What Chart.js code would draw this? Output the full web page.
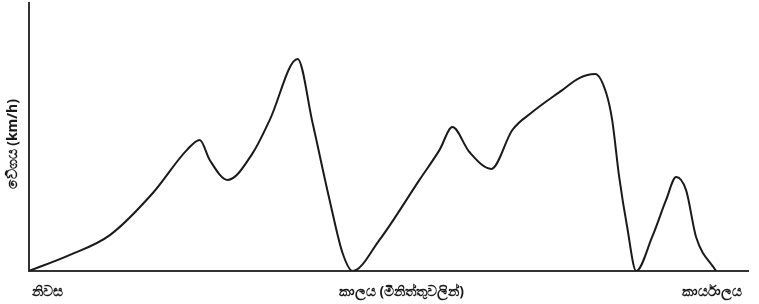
<!DOCTYPE html>
<html>
<head>
<meta charset="utf-8">
<script src="https://cdn.jsdelivr.net/npm/chart.js@4/dist/chart.umd.min.js"></script>
<style>
html,body{margin:0;padding:0;background:#fff;}
#wrap{width:759px;height:304px;}
</style>
</head>
<body>
<div id="wrap"><canvas id="c" width="759" height="304"></canvas></div>
<script>
// time (minutes, arbitrary units) and speed (km/h, arbitrary units)
const times  = [0, 4.1, 8.1, 12.4, 15.8, 17.1, 18.1, 19.9, 22.4, 24.1, 26.9, 28.4, 30.1, 31.4, 32.4,
                35.1, 39.1, 41.1, 42.4, 44.1, 46.3, 48.4, 50.4, 53.4, 55.1, 56.7, 57.8, 58.4, 59.1, 59.9, 60.8,
                62.4, 63.8, 64.8, 65.8, 66.8, 68.8];
const speeds = [0, 6.0, 13.4, 29.1, 45.1, 48.9, 41.4, 34.0, 44.0, 56.3, 79.1, 55.2, 26.5, 6.7, 0,
                11.6, 34.0, 45.1, 53.7, 44.4, 38.1, 52.6, 59.3, 67.5, 72.0, 73.5, 66.4, 56.3, 35.1, 16.4, 0,
                12.7, 26.5, 35.1, 30.2, 12.7, 0];
const xTickLabels = ["නිවස", "කාලය (මිනිත්තුවලින්)", "කාර්යාලය"];
const xTickValues = [1.9, 37.3, 68.4];
const yTitle = "වේගය (km/h)";

const points = times.map((t, i) => ({x: t, y: speeds[i]}));
const FONT = "'Noto Sans', 'DejaVu Sans', sans-serif";

new Chart(document.getElementById('c'), {
  type: 'line',
  data: {
    datasets: [{
      data: points,
      borderColor: '#1a1a1a',
      borderWidth: 2,
      pointRadius: 0,
      fill: false,
      cubicInterpolationMode: 'monotone'
    }]
  },
  options: {
    responsive: false,
    animation: false,
    layout: {padding: {top: 3, right: 11, left: 0, bottom: 0}},
    plugins: {legend: {display: false}, tooltip: {enabled: false}},
    scales: {
      x: {
        type: 'linear',
        min: 0, max: 72,
        grid: {display: false, drawTicks: false},
        border: {display: true, color: '#333', width: 2},
        afterBuildTicks: s => { s.ticks = xTickValues.map(v => ({value: v})); },
        afterFit: s => { s.height = 33; },
        ticks: {
          autoSkip: false, maxRotation: 0, padding: 13,
          color: '#1a1a1a',
          font: {family: FONT, size: 14, weight: 'bold'},
          callback: (v, i) => xTickLabels[i]
        }
      },
      y: {
        min: 0, max: 100,
        grid: {display: false, drawTicks: false},
        border: {display: true, color: '#333', width: 2},
        ticks: {display: false},
        afterFit: s => { s.width = 29; },
        title: {
          display: true, text: yTitle + "    ",
          color: '#1a1a1a',
          font: {family: FONT, size: 14, weight: 'bold'},
          padding: {top: 5, bottom: 0}
        }
      }
    }
  }
});
</script>
</body>
</html>
